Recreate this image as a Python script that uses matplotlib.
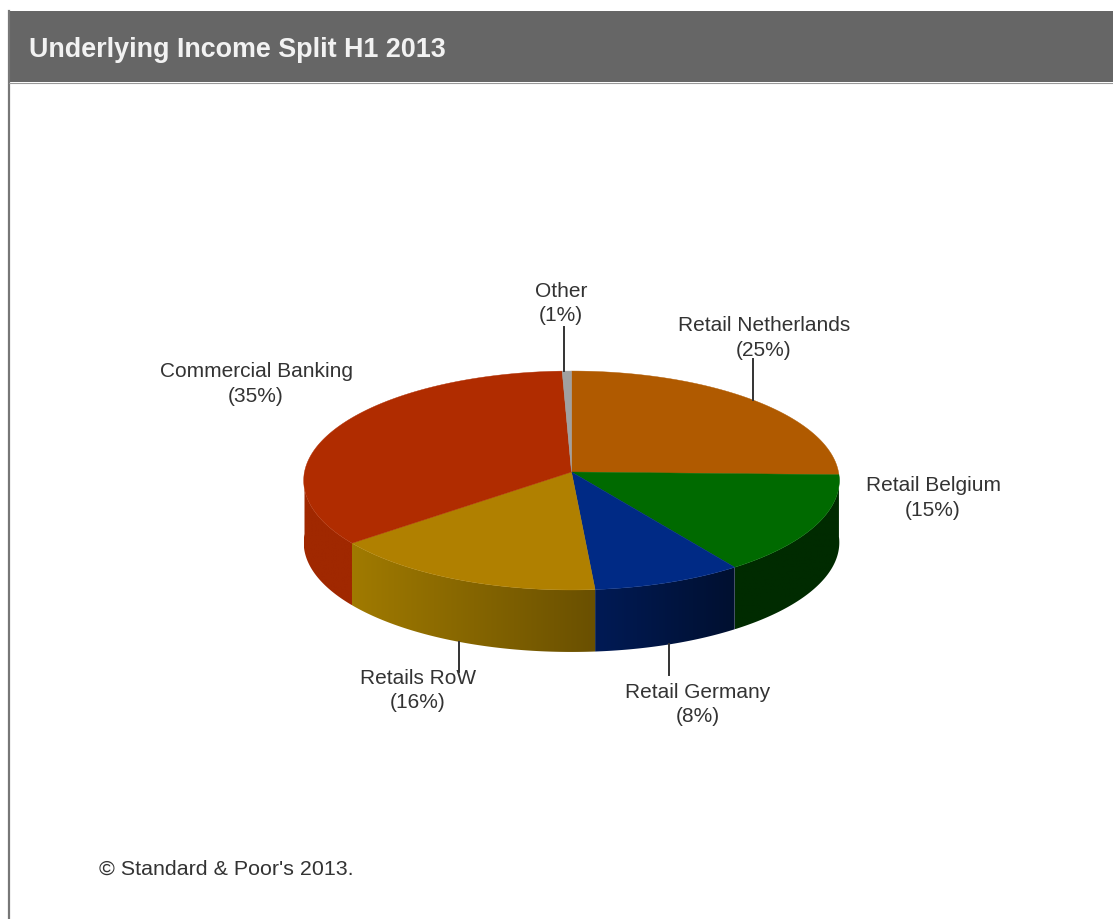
import numpy as np
import matplotlib
matplotlib.use("Agg")
import matplotlib.pyplot as plt
from matplotlib.colors import to_rgb
from matplotlib.patches import Polygon, Rectangle

# segments clockwise from 12 o'clock
labels = ["Retail Netherlands", "Retail Belgium", "Retail Germany", "Retails RoW", "Commercial Banking", "Other"]
values = [25.4, 14.9, 8.4, 15.6, 35.1, 0.6]
top_colors = ["#b05a00", "#006a00", "#002a85", "#b08000", "#b02c00", "#a0a0a0"]
# side wall colour at left and right end of each visible wall
wall_left = ["#6a3600", "#002b00", "#001a55", "#a07a00", "#a02800", "#707070"]
wall_right = ["#6a3600", "#002b00", "#001030", "#6a5000", "#a02800", "#707070"]
# centre of each text, leader line length (0 = none) and its small sideways shift
label_xy = [(764, 338), (933, 498), (698, 704.5), (418, 690.5), (256, 384), (561, 303.5)]
leader = [41, 0, 31, 30, 0, 44]
leader_dx = [0, 0, 0, 2, 0, -3]

W, H = 1113, 919
cx, cy = 571.5, 472
A, B, k = 267, 108.8, 0.0776   # projection of the tilted disc
depth = 62

def project(theta):
    x = np.cos(theta)
    y = np.sin(theta)
    return cx + A * x / (1 + k * y), cy - B * y / (1 + k * y)

plt.rcParams["font.family"] = ["Liberation Sans", "DejaVu Sans"]
fig = plt.figure(figsize=(W / 100, H / 100), dpi=100)
ax = fig.add_axes([0, 0, 1, 1])
ax.axis("off")

# frame and title band
ax.add_patch(Rectangle((8, 11), W - 8, H - 11, fc="white", ec="none"))
ax.plot([9, 9], [11, H], color="#777777", lw=1.6)
ax.add_patch(Rectangle((8, 11), W - 8, 71, fc="#666666", ec="none"))
ax.plot([9, W], [82.5, 82.5], color="#999999", lw=0.8)
ax.text(29, 50, "Underlying Income Split H1 2013", color="#f2f2f2", fontsize=19.4,
        fontweight="bold", va="center", ha="left")
ax.text(99, 869, "\u00a9 Standard & Poor's 2013.", color="#333333", fontsize=15.4,
        va="center", ha="left")

edges = 90 - np.concatenate([[0], np.cumsum(values)]) / np.sum(values) * 360

# side walls first, only the front half of the rim shows
for i in range(len(values)):
    hi, lo = min(edges[i], 0), max(edges[i + 1], -180)
    if hi <= lo:
        continue
    x, y = project(np.radians(np.linspace(hi, lo, 80)))
    wall = Polygon(np.c_[np.r_[x, x[::-1]], np.r_[y, y[::-1] + depth]], fc="none", ec="none")
    ax.add_patch(wall)
    ramp = np.linspace(to_rgb(wall_left[i]), to_rgb(wall_right[i]), 64)[None, :, :]
    im = ax.imshow(ramp, extent=(x.min(), x.max(), y.max() + depth, y.min()),
                   aspect="auto", interpolation="bilinear", zorder=2)
    im.set_clip_path(wall)

# top faces
for i in range(len(values)):
    th = np.radians(np.linspace(edges[i], edges[i + 1], 120))
    x, y = project(th)
    ax.fill(np.r_[cx, x], np.r_[cy, y], color=top_colors[i], lw=0.3, zorder=3)

# labels and leader lines
for i, name in enumerate(labels):
    mid = np.radians((edges[i] + edges[i + 1]) / 2)
    x, y = project(mid)
    x = x + leader_dx[i]
    if leader[i]:
        if np.sin(mid) > 0:
            ax.plot([x, x], [y, y - leader[i]], color="#333333", lw=1.4, zorder=4)
        else:
            ax.plot([x, x], [y + depth, y + depth + leader[i]], color="#333333", lw=1.4, zorder=4)
    ax.text(label_xy[i][0], label_xy[i][1], f"{name}\n({values[i]:.0f}%)", color="#333333",
            fontsize=15, ha="center", va="center", linespacing=1.35, zorder=5)

ax.set_xlim(0, W)
ax.set_ylim(H, 0)
fig.savefig("out.png", dpi=100)
